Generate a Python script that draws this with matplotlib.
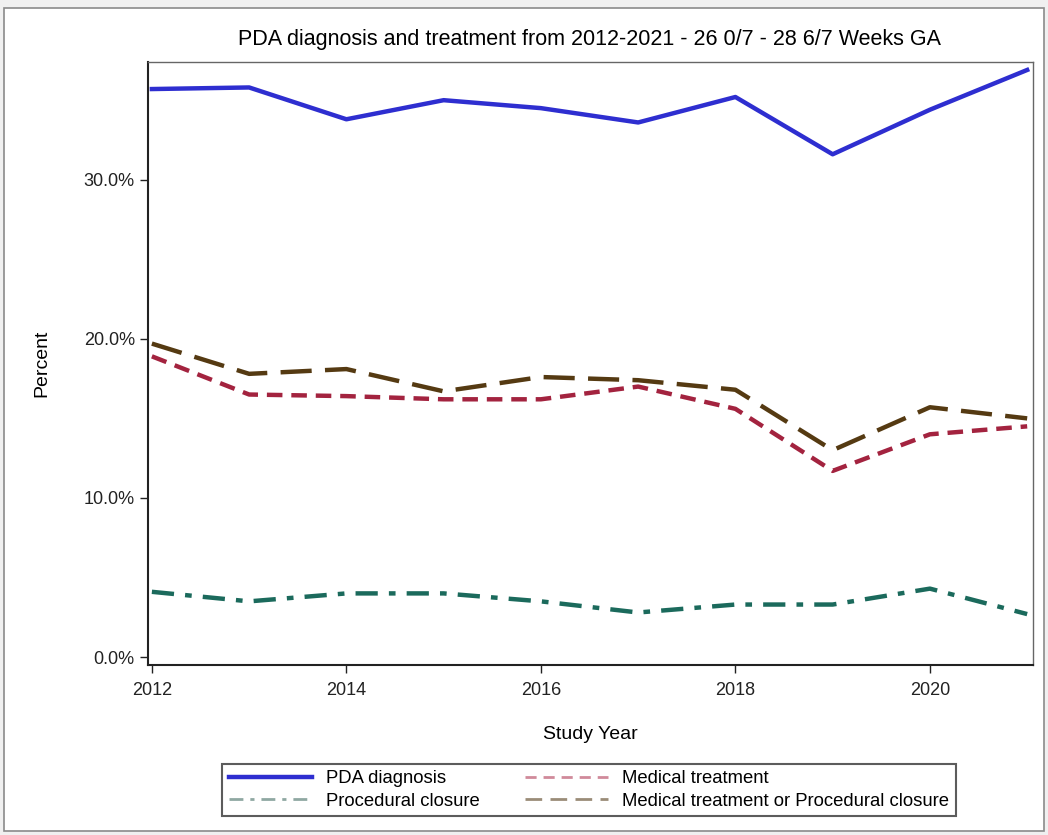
import matplotlib
matplotlib.use("Agg")
import matplotlib.pyplot as plt
from matplotlib.lines import Line2D
from matplotlib.patches import Rectangle
from matplotlib.ticker import FuncFormatter

plt.rcParams['font.family'] = ['Liberation Sans Narrow', 'Liberation Sans', 'DejaVu Sans']

years = [2012, 2013, 2014, 2015, 2016, 2017, 2018, 2019, 2020, 2021]
pda_diagnosis = [35.7, 35.8, 33.8, 35.0, 34.5, 33.6, 35.2, 31.6, 34.4, 36.9]
medical_treatment = [18.9, 16.5, 16.4, 16.2, 16.2, 17.0, 15.6, 11.7, 14.0, 14.5]
procedural_closure = [4.1, 3.5, 4.0, 4.0, 3.5, 2.8, 3.3, 3.3, 4.3, 2.7]
med_or_proc = [19.7, 17.8, 18.1, 16.7, 17.6, 17.4, 16.8, 13.0, 15.7, 15.0]

series_labels = ['PDA diagnosis', 'Medical treatment', 'Procedural closure',
                 'Medical treatment or Procedural closure']
x_ticks = [2012, 2014, 2016, 2018, 2020]
y_ticks = [0, 10, 20, 30]

fig = plt.figure(figsize=(10.48, 8.35), dpi=100, facecolor='#f0f0f0')
# white panel with a thin grey frame, like the viewer window
fig.patches.append(Rectangle((0.004, 0.005), 0.992, 0.985, transform=fig.transFigure,
                             facecolor='white', edgecolor='#8a8a8a', linewidth=1.2,
                             zorder=-10))

ax = fig.add_axes([148 / 1048, 1 - 665 / 835, (1033 - 148) / 1048, (665 - 62) / 835])
ax.set_zorder(5)

blue = '#2e2ed0'
red = '#a3233f'
teal = '#1b6a5c'
brown = '#553a12'

ax.plot(years, pda_diagnosis, color=blue, lw=3.2)
ax.plot(years, medical_treatment, color=red, lw=3.2, dashes=(3.5, 2.0))
ax.plot(years, procedural_closure, color=teal, lw=3.2, dashes=(5.0, 2.5, 1.5, 2.5))
ax.plot(years, med_or_proc, color=brown, lw=3.2, dashes=(7.0, 3.0))

ax.set_xlim(2011.96, 2021.06)
ax.set_ylim(-0.5, 37.4)
ax.set_xticks(x_ticks)
ax.set_yticks(y_ticks)
ax.yaxis.set_major_formatter(FuncFormatter(lambda v, p: f'{v:.1f}%'))
ax.tick_params(direction='out', length=6, width=1, labelsize=13, colors='#222222')
ax.tick_params(axis='x', pad=6)
for s in ax.spines.values():
    s.set_color('#666666')
    s.set_linewidth(1)
ax.spines['left'].set_linewidth(1.5)
ax.spines['bottom'].set_linewidth(1.5)
ax.spines['left'].set_color('#222222')
ax.spines['bottom'].set_color('#222222')

ax.set_xlabel('Study Year', fontsize=14, labelpad=20)
ax.set_ylabel('Percent', fontsize=14, labelpad=24)
fig.text(590 / 1048, 1 - 40 / 835, 'PDA diagnosis and treatment from 2012-2021 - 26 0/7 - 28 6/7 Weeks GA',
         ha='center', va='center', fontsize=15.5)

handles = [
    Line2D([], [], color=blue, lw=3.2),
    Line2D([], [], color='#d08a9a', lw=2, dashes=(4, 2.5)),
    Line2D([], [], color='#8fa8a2', lw=2, dashes=(5, 2.5, 1.5, 2.5)),
    Line2D([], [], color='#9a8c78', lw=2, dashes=(6, 3)),
]
# matplotlib fills legend columns first, so reorder to get rows
order = [0, 2, 1, 3]
leg = fig.legend([handles[i] for i in order], [series_labels[i] for i in order],
                 loc='center', bbox_to_anchor=(589 / 1048, 1 - 790 / 835),
                 ncol=2, fontsize=13.3, frameon=True, fancybox=False, handlelength=4.5,
                 columnspacing=2.4, handletextpad=0.8, labelspacing=0.3, borderpad=0.35)
leg.get_frame().set_edgecolor('#333333')
leg.get_frame().set_linewidth(1.5)

fig.savefig('out.png', dpi=100, facecolor=fig.get_facecolor())
